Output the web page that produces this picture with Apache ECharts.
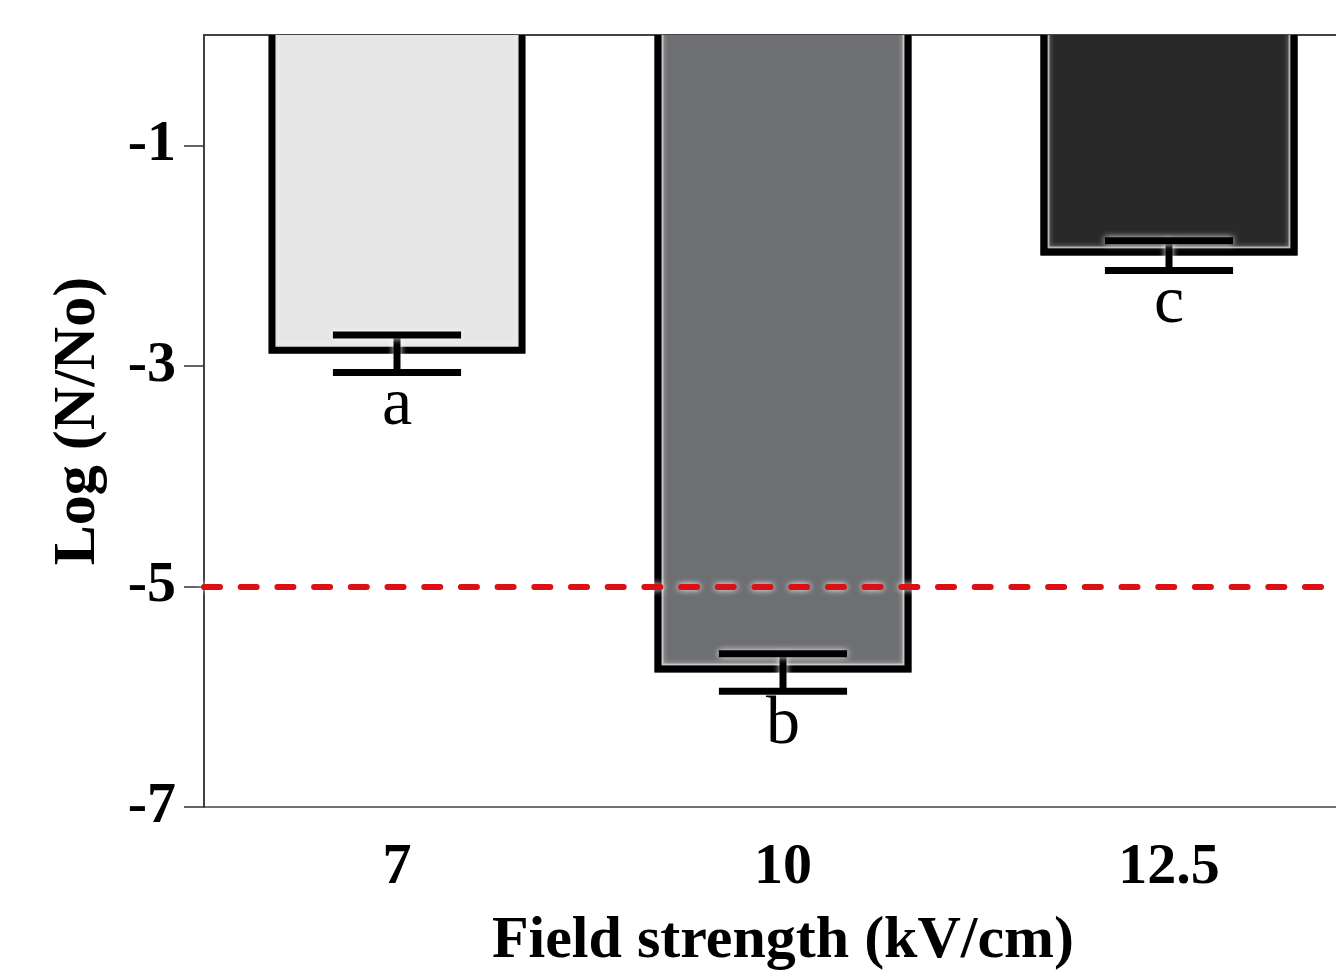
<!DOCTYPE html>
<html><head><meta charset="utf-8">
<script src="https://cdn.jsdelivr.net/npm/echarts@6/dist/echarts.min.js"></script>
<style>html,body{margin:0;padding:0;background:#fff}#c{width:1336px;height:979px}</style>
</head><body><div id="c"></div>
<script>
const categories = ['7', '10', '12.5'];
const means = [-2.89, -5.78, -2.00];
const errors = [0.17, 0.17, 0.135];
const letters = ['a', 'b', 'c'];
const yTicks = [-7, -5, -3, -1];
const thresholdValue = -5;

const barColors = ['#e6e6e6', '#6e6f73', '#292929'];
const SERIF = '"Liberation Serif","Times New Roman",serif';
const chart = echarts.init(document.getElementById('c'), null, {renderer: 'canvas'});
const data = categories.map((c, i) => [i, means[i], errors[i]]);

function renderItem(params, api) {
  const i = api.value(0), v = api.value(1), e = api.value(2);
  const band = api.size([1, 0])[0];
  const w = band * 0.666;
  const top = api.coord([i, 0]);
  const bot = api.coord([i, v]);
  const cx = top[0];
  const x0 = cx - w / 2, x1 = cx + w / 2;
  const y0 = top[1], yb = bot[1];
  const lw = 7, h = lw / 2;
  const yHi = api.coord([i, v + e])[1], yLo = api.coord([i, v - e])[1];
  const capW = band * 0.332;
  const glow = {shadowBlur: 6, shadowColor: 'rgba(255,255,255,0.95)'};
  return {
    type: 'group',
    children: [
      {type: 'rect', shape: {x: x0, y: y0, width: w, height: yb - y0}, style: {fill: barColors[i]}},
      {type: 'polyline', shape: {points: [[x0 + lw + 1, y0], [x0 + lw + 1, yb - lw - 1], [x1 - lw - 1, yb - lw - 1], [x1 - lw - 1, y0]]},
        style: {fill: null, stroke: 'rgba(225,225,225,0.7)', lineWidth: 2, shadowBlur: 5, shadowColor: 'rgba(255,255,255,0.9)'}},
      {type: 'polyline', shape: {points: [[x0 + h, y0], [x0 + h, yb - h], [x1 - h, yb - h], [x1 - h, y0]]},
        style: {fill: null, stroke: '#000', lineWidth: lw, lineJoin: 'miter'}},
      {type: 'line', shape: {x1: cx, y1: yHi, x2: cx, y2: yLo}, style: Object.assign({stroke: '#000', lineWidth: 7}, glow)},
      {type: 'line', shape: {x1: cx - capW / 2, y1: yHi, x2: cx + capW / 2, y2: yHi}, style: Object.assign({stroke: '#000', lineWidth: 7}, glow)},
      {type: 'line', shape: {x1: cx - capW / 2, y1: yLo, x2: cx + capW / 2, y2: yLo}, style: {stroke: '#000', lineWidth: 7}},
      {type: 'text', style: {x: cx, y: yLo + 3.5 + 30, text: letters[i], fill: '#000', font: '68px ' + SERIF, align: 'center', verticalAlign: 'middle'}}
    ]
  };
}

chart.setOption({
  animation: false,
  backgroundColor: '#fff',
  grid: {left: 204, top: 35, width: 1158, height: 772, show: true, borderColor: '#444', borderWidth: 1.5, outerBoundsMode: 'none', containLabel: false},
  xAxis: {
    type: 'category', data: categories, boundaryGap: true,
    axisLine: {lineStyle: {color: '#333', width: 1.5}},
    axisTick: {alignWithLabel: true, length: 20, lineStyle: {color: '#333', width: 1.5}},
    axisLabel: {fontFamily: SERIF, fontWeight: 'bold', fontSize: 58, color: '#000', margin: 32},
    splitLine: {show: false},
    name: 'Field strength (kV/cm)', nameLocation: 'middle', nameGap: 104,
    nameTextStyle: {fontFamily: SERIF, fontWeight: 'bold', fontSize: 60, color: '#000'}
  },
  yAxis: {
    type: 'value', min: -7, max: 0,
    axisLine: {show: true, lineStyle: {color: '#333', width: 1.5}},
    axisTick: {show: true, length: 20, customValues: yTicks, lineStyle: {color: '#333', width: 1.5}},
    axisLabel: {customValues: yTicks, fontFamily: SERIF, fontWeight: 'bold', fontSize: 58, color: '#000', margin: 28},
    splitLine: {show: false},
    name: 'Log (N/No)', nameLocation: 'middle', nameGap: 96, nameRotate: 90,
    nameTextStyle: {fontFamily: SERIF, fontWeight: 'bold', fontSize: 60, color: '#000'}
  },
  series: [{
    type: 'custom', renderItem: renderItem, data: data, clip: false, z: 2,
    encode: {x: 0, y: 1},
    markLine: {
      silent: true, symbol: ['none', 'none'], label: {show: false}, z: 5,
      lineStyle: {color: '#dc0f14', width: 6, type: [16, 20.7], cap: 'round', shadowBlur: 6, shadowColor: 'rgba(255,255,255,0.95)'},
      emphasis: {disabled: true},
      data: [{yAxis: thresholdValue}]
    }
  }]
});
</script></body></html>
